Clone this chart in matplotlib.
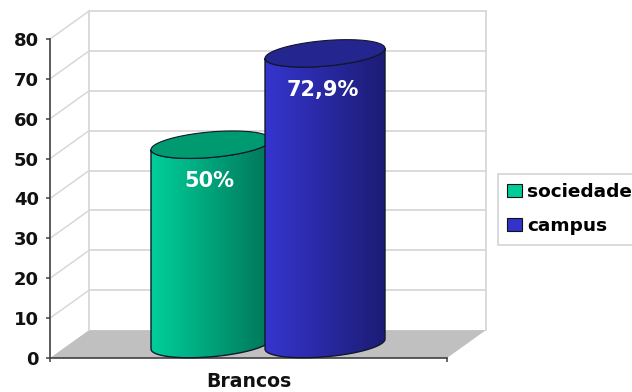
import numpy as np
import matplotlib.pyplot as plt
from matplotlib.patches import Patch, PathPatch, Polygon
from matplotlib.path import Path
from matplotlib.colors import LinearSegmentedColormap

categories = ['Brancos']
series = ['sociedade', 'campus']
values = [50, 72.9]
labels = ['50%', '72,9%']
y_ticks = [0, 10, 20, 30, 40, 50, 60, 70, 80]

colors_left = ['#00cf9b', '#3535cf']
colors_right = ['#007558', '#1c1c75']
colors_top = ['#009a70', '#25258f']
colors_legend = ['#00cc99', '#3333cc']

W, H = 632, 392
DEPTH_X = 39 / 397
DEPTH_Y = 7
BAR_W = 120 / 397
BAR_OFF = 0.1436
ELL = 3.2
TILT = 1.25

plt.rcParams['font.family'] = ['DejaVu Sans']
fig = plt.figure(figsize=(W / 100, H / 100), dpi=100)
ax = fig.add_axes([50 / W, 1 - 358 / H, 397 / W, 319 / H])
ax.set_xlim(0, 1)
ax.set_ylim(0, 80)
ax.patch.set_visible(False)

# floor
ax.add_patch(Polygon([(0, 0), (1, 0), (1 + DEPTH_X, DEPTH_Y), (DEPTH_X, DEPTH_Y)],
                     fc='#c0c0c0', ec='none', clip_on=False, zorder=1))

# gridlines on back and side walls
grid = '#d8d8d8'
for t in y_ticks:
    if t > 0:
        ax.plot([DEPTH_X, 1 + DEPTH_X], [t + DEPTH_Y, t + DEPTH_Y], color=grid, lw=1.3, clip_on=False, zorder=1)
        ax.plot([0, DEPTH_X], [t, t + DEPTH_Y], color=grid, lw=1.1, clip_on=False, zorder=1)
ax.plot([DEPTH_X, DEPTH_X], [DEPTH_Y, 80 + DEPTH_Y], color=grid, lw=1.3, clip_on=False, zorder=1)
ax.plot([1 + DEPTH_X, 1 + DEPTH_X], [DEPTH_Y, 80 + DEPTH_Y], color=grid, lw=1.3, clip_on=False, zorder=1)


def cylinder(cx, val, c_left, c_right, c_top, z):
    rx = BAR_W / 2
    t = np.linspace(0, np.pi, 60)
    base = DEPTH_Y / 2
    top = base + val
    # the ellipses lean up to the right, like the old excel 3d look
    bx = cx - rx * np.cos(t)
    by = base - ELL * np.sin(t) - TILT * np.cos(t)
    tx = cx + rx * np.cos(t)
    ty = top - ELL * np.sin(t) + TILT * np.cos(t)
    verts = np.vstack([np.column_stack([bx, by]), np.column_stack([tx, ty])])
    body = PathPatch(Path(np.vstack([verts, verts[:1]])), fc='none', ec='#10182a', lw=1.0, clip_on=False, zorder=z + 1)
    ax.add_patch(body)
    cmap = LinearSegmentedColormap.from_list('c', [c_left, c_right])
    im = ax.imshow(np.linspace(0, 1, 128).reshape(1, -1), cmap=cmap, aspect='auto',
                   extent=[cx - rx, cx + rx, base - 2 * ELL, top + 2 * ELL], zorder=z, clip_on=True)
    im.set_clip_path(body)
    ang = np.linspace(0, 2 * np.pi, 120)
    ax.add_patch(Polygon(np.column_stack([cx + rx * np.cos(ang), top + ELL * np.sin(ang) + TILT * np.cos(ang)]),
                         fc=c_top, ec='#10182a', lw=0.8, clip_on=False, zorder=z + 2))


for i, v in enumerate(values):
    cx = 0.5 + (i * 2 - 1) * BAR_OFF + DEPTH_X / 2
    cylinder(cx, v, colors_left[i], colors_right[i], colors_top[i], 3 + i * 3)
    ax.text(cx - 0.005, DEPTH_Y / 2 + v - 9.2, labels[i], color='white', fontweight='bold', fontsize=15,
            ha='center', va='center', zorder=10)

ax.set_xlim(0, 1)
ax.set_ylim(0, 80)

ax.spines['top'].set_visible(False)
ax.spines['right'].set_visible(False)
for s in ['left', 'bottom']:
    ax.spines[s].set_color('#404040')
    ax.spines[s].set_linewidth(1.2)
    ax.spines[s].set_zorder(2)

ax.set_yticks(y_ticks)
ax.set_yticklabels([str(t) for t in y_ticks], fontweight='bold', fontsize=13, color='#111111')
ax.tick_params(axis='y', length=3, width=1.1, color='#404040', pad=5)
ax.set_xticks([0, 1])
ax.set_xticklabels(['', ''])
ax.tick_params(axis='x', length=3, width=1.1, color='#404040')
ax.text(0.5, -5.8, categories[0], fontweight='bold', fontsize=13.6, ha='center', va='center', color='#111111')

handles = [Patch(fc=colors_legend[i], ec='#111111', lw=0.8, label=series[i]) for i in range(2)]
leg = fig.legend(handles=handles, loc='upper left', bbox_to_anchor=(498 / W, 1 - 174 / H),
                 bbox_transform=fig.transFigure, borderaxespad=0, prop={'weight': 'bold', 'size': 13.3},
                 handlelength=0.8, handleheight=0.72, handletextpad=0.27, labelspacing=0.87,
                 borderpad=0.5, fancybox=False, edgecolor='#d4d4d4', framealpha=1)
leg.get_frame().set_linewidth(1.2)

fig.savefig('out.png', dpi=100)
